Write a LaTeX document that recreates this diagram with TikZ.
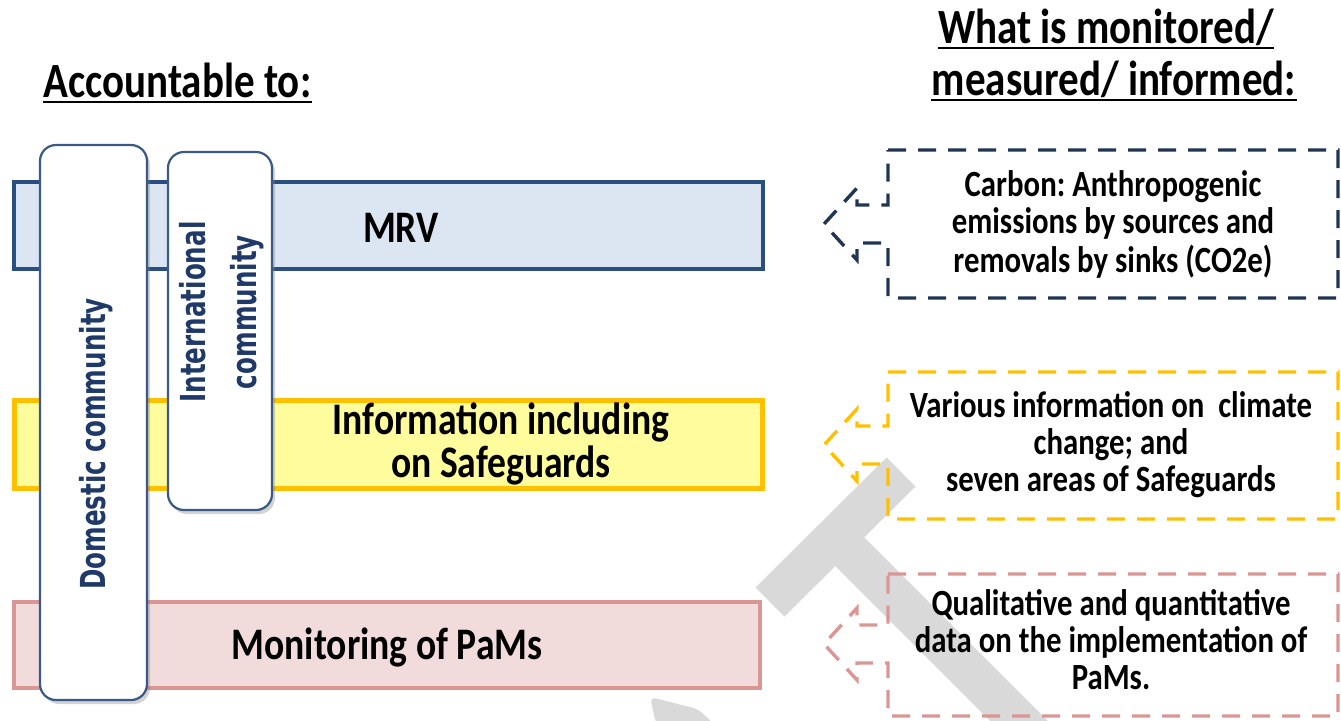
\documentclass[tikz,border=0pt]{standalone}
\usepackage{fontspec}
\usepackage{graphicx}
\setmainfont{Carlito}
\newfontfamily\vfont{DejaVu Sans}
\usetikzlibrary{shadows}
\definecolor{mrvline}{HTML}{2A4E7F}
\definecolor{mrvfill}{HTML}{DCE6F2}
\definecolor{infoline}{HTML}{FFC000}
\definecolor{infofill}{HTML}{FFFC9E}
\definecolor{pamline}{HTML}{D99694}
\definecolor{pamfill}{HTML}{F2DCDB}
\definecolor{vline}{HTML}{3A5A85}
\definecolor{vtext}{HTML}{1F3A68}
\definecolor{cnavy}{HTML}{1F3552}
\definecolor{wmgray}{HTML}{D9D9D9}
\newcommand\vs[1]{\scalebox{1}[1.2]{#1}}
\newcommand\hs[1]{\scalebox{1.4}[1]{#1}}
\renewcommand\arraystretch{1}
\frenchspacing
\tikzset{
  barbox/.style={draw, rectangle, inner sep=0pt},
  vbox/.style={draw=vline, fill=white, line width=1.1pt, rounded corners=8pt,
    rectangle, inner sep=0pt,
    drop shadow={shadow xshift=1.5pt, shadow yshift=-2pt, opacity=0.35}},
  callout/.style={line width=1.7pt, dash pattern=on 9pt off 6pt, line join=miter},
  wmark/.style={draw=wmgray, line width=20.5pt, line cap=butt, line join=round},
  head/.style={inner sep=0pt, anchor=base, font=\bfseries\fontsize{20.5}{20.5}\selectfont},
  bartext/.style={inner sep=0pt, font=\bfseries\fontsize{18.8}{16.7}\selectfont},
  rtext/.style={inner sep=0pt, font=\bfseries\fontsize{15.4}{15.4}\selectfont},
  vtextst/.style={inner sep=0pt, text=vtext, font=\vfont\bfseries\fontsize{12.3}{17.9}\selectfont},
  uline/.style={line width=1.1pt, black}
}
\begin{document}
\begin{tikzpicture}[x=0.5pt, y=-0.5pt]
\useasboundingbox (0,0) rectangle (1341,720);
% watermark
\begin{scope}
  \clip (0,0) rectangle (1341,720);
  \draw[wmark] (770,602) -- (901,472);
  \draw[wmark] (835,537) -- (1085,787);
  \fill[wmgray, rounded corners=3pt] (650,697) -- (698,709) -- (714,724) -- (656,724) -- cycle;
\end{scope}
% headings
\node[head, anchor=base west] (acc) at (43,97) {\vs{Accountable to:}};
\draw[uline] ([yshift=-2.6pt]acc.base west) -- ([yshift=-2.6pt]acc.base east);
\node[head] (wh1) at (1106,43) {\vs{What is monitored/}};
\node[head] (wh2) at (1114,95) {\vs{measured/ informed:}};
\draw[uline] ([yshift=-2.6pt]wh1.base west) -- ([yshift=-2.6pt]wh1.base east);
\draw[uline] ([yshift=-2.6pt]wh2.base west) -- ([yshift=-2.6pt]wh2.base east);
% bars
\node[barbox, draw=mrvline, fill=mrvfill, line width=2pt, minimum width=374.5pt, minimum height=43.5pt] (mrvbar) at (388.5,225.5) {};
\node[barbox, draw=infoline, fill=infofill, line width=2.5pt, minimum width=374pt, minimum height=44pt] (infobar) at (388.5,444.5) {};
\node[barbox, draw=pamline, fill=pamfill, line width=2pt, minimum width=373pt, minimum height=43pt] (pambar) at (387,645) {};
\node[bartext] (mrvt) at (401,228) {\vs{MRV}};
\node[bartext] (infot) at (501,446) {\vs{\begin{tabular}{@{}c@{}}Information including\\on Safeguards\end{tabular}}};
\node[bartext] (pamt) at (387,647) {\vs{Monitoring of PaMs}};
% vertical boxes
\node[vbox, minimum width=53.5pt, minimum height=277.5pt] (dombox) at (93.5,422.5) {};
\node[vbox, minimum width=52pt, minimum height=179pt] (intbox) at (220,331) {};
\node[vtextst] (domt) at (96,444) {\hs{\rotatebox{90}{Domestic community}}};
\node[vtextst] (intt) at (221,312) {\hs{\rotatebox{90}{\begin{tabular}{@{}c@{}}International\\community\end{tabular}}}};
% callouts
\draw[callout, draw=cnavy] (888,150) -- (1338,150) -- (1338,298) -- (888,298) -- (888,243) -- (857,243) -- (857,260) -- (824,224) -- (857,188) -- (857,205) -- (888,205) -- cycle;
\draw[callout, draw=infoline] (888,372) -- (1338,372) -- (1338,519) -- (888,519) -- (888,464) -- (857,464) -- (857,481) -- (824,445) -- (857,409) -- (857,426) -- (888,426) -- cycle;
\draw[callout, draw=pamline] (888,574) -- (1338,574) -- (1338,716) -- (888,716) -- (888,663) -- (857,663) -- (857,680) -- (824,644) -- (857,608) -- (857,625) -- (888,625) -- cycle;
\node[rtext] (ct1) at (1113,227) {\vs{\begin{tabular}{@{}c@{}}Carbon: Anthropogenic\\emissions by sources and\\removals by sinks (CO2e)\end{tabular}}};
\node[rtext] (ct2) at (1111,447) {\vs{\begin{tabular}{@{}c@{}}Various information on\ \ climate\\change; and\\seven areas of Safeguards\end{tabular}}};
\node[rtext] (ct3) at (1111,645) {\vs{\begin{tabular}{@{}c@{}}Qualitative and quantitative\\data on the implementation of\\PaMs.\end{tabular}}};
\end{tikzpicture}
\end{document}
